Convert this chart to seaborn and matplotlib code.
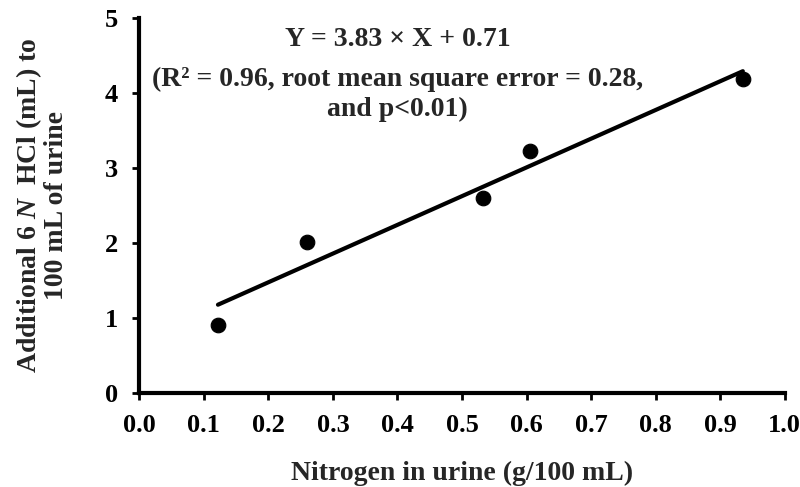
import numpy as np
import pandas as pd
import matplotlib.pyplot as plt
import seaborn as sns

# values
nitrogen = [0.122, 0.26, 0.533, 0.605, 0.935]   # g/100 mL
hcl_added = [0.91, 2.01, 2.60, 3.23, 4.19]       # mL of 6 N HCl
slope, intercept = 3.83, 0.71
x_ticks = [0.0, 0.1, 0.2, 0.3, 0.4, 0.5, 0.6, 0.7, 0.8, 0.9, 1.0]
y_ticks = [0, 1, 2, 3, 4, 5]

sns.set_style('ticks')
plt.rcParams['font.family'] = ['Liberation Serif', 'DejaVu Serif']
plt.rcParams['font.weight'] = 'bold'
plt.rcParams['axes.labelweight'] = 'bold'
plt.rcParams['mathtext.fontset'] = 'custom'
plt.rcParams['mathtext.rm'] = 'Liberation Serif:bold'
plt.rcParams['mathtext.it'] = 'Liberation Serif:italic:bold'

df = pd.DataFrame({'x': nitrogen, 'y': hcl_added})
fit_x = np.array([min(nitrogen), max(nitrogen)])
fit = pd.DataFrame({'x': fit_x, 'y': slope * fit_x + intercept})

fig, ax = plt.subplots(figsize=(8, 4.87), dpi=100)
fig.subplots_adjust(left=0.174, right=0.981, top=0.963, bottom=0.193)

sns.lineplot(data=fit, x='x', y='y', color='black', linewidth=3, ax=ax)
sns.scatterplot(data=df, x='x', y='y', color='black', edgecolor='black',
                s=110, zorder=3, ax=ax)

ax.set_xlim(0, 1)
ax.set_ylim(0, 5)
ax.set_xticks(x_ticks)
ax.set_xticklabels([f'{t:.1f}' for t in x_ticks])
ax.set_yticks(y_ticks)
ax.tick_params(direction='out', length=5, width=2, labelsize=19, pad=10,
               color='black', labelcolor='black')
for side in ['left', 'bottom']:
    ax.spines[side].set_linewidth(3)
    ax.spines[side].set_color('black')
sns.despine(ax=ax)

ax.set_xlabel('Nitrogen in urine (g/100 mL)', fontsize=20, labelpad=17)
ax.set_ylabel('Additional 6 $\\mathit{N}$  HCl (mL) to\n100 mL of urine',
              fontsize=20, labelpad=26, linespacing=1.0)

ax.text(0.40, 4.72, 'Y = 3.83 × X + 0.71', fontsize=20, fontweight='bold',
        ha='center', va='center')
ax.text(0.40, 4.18, '(R² = 0.96, root mean square error = 0.28,', fontsize=20,
        fontweight='bold', ha='center', va='center')
ax.text(0.40, 3.78, 'and p<0.01)', fontsize=20, fontweight='bold',
        ha='center', va='center')

plt.savefig('out.png', dpi=100)
